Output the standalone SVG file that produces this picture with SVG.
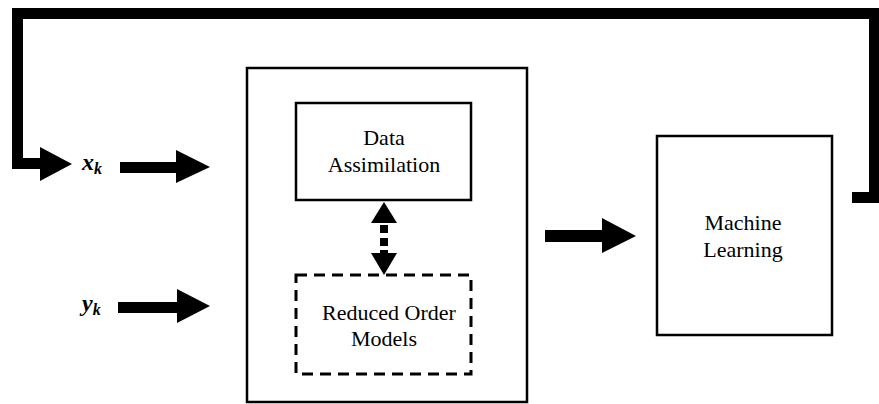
<svg xmlns="http://www.w3.org/2000/svg" width="879" height="404" viewBox="0 0 879 404">
<defs>
<style>
.box{fill:none;stroke:#000;stroke-width:2.5}
.dash{fill:none;stroke:#000;stroke-width:3;stroke-dasharray:11 7}
</style>
</defs>
<rect width="879" height="404" fill="#fff"/>
<g id="outer">
<rect class="box" x="247" y="68" width="280" height="334"/>
</g>
<g id="data-assimilation" font-family="Liberation Serif" font-size="22" text-anchor="middle" fill="#000">
<rect class="box" x="296" y="103" width="175" height="97"/>
<text x="384" y="145">Data</text>
<text x="384" y="172">Assimilation</text>
</g>
<g id="reduced-order-models" font-family="Liberation Serif" font-size="22" text-anchor="middle" fill="#000">
<rect class="dash" x="296" y="275" width="175" height="99"/>
<text x="389" y="320">Reduced Order</text>
<text x="384" y="346">Models</text>
</g>
<g id="machine-learning" font-family="Liberation Serif" font-size="22" text-anchor="middle" fill="#000">
<rect class="box" x="657" y="136" width="175" height="199"/>
<text x="743" y="230">Machine</text>
<text x="743" y="257">Learning</text>
</g>
<g id="xk" font-family="Liberation Serif" font-size="24" font-weight="bold" font-style="italic" fill="#000">
<text x="82" y="170">x<tspan font-size="16" dy="4">k</tspan></text>
</g>
<g id="yk" font-family="Liberation Serif" font-size="24" font-weight="bold" font-style="italic" fill="#000">
<text x="82" y="311">y<tspan font-size="16" dy="4">k</tspan></text>
</g>
<g id="connectors" fill="#000">
<path d="M852,192 H869 V19 H23 V158 H40 V147 L72,164 L40,181 V169 H12 V8 H879 V203 H852 Z"/>
<path d="M120,162 H176 V150 L210,167 L176,183 V173 H120 Z"/>
<path d="M118,302 H177 V289 L210,306 L177,323 V313 H118 Z"/>
<path d="M545,230 H602 V218 L636,236 L602,253 V242 H545 Z"/>
<path d="M384,202 L397,223 H371 Z"/>
<path d="M384,275 L397,253 H371 Z"/>
<rect x="380" y="225" width="8" height="8"/>
<rect x="380" y="238" width="8" height="8"/>
<rect x="380" y="250" width="8" height="4"/>
</g>
</svg>
